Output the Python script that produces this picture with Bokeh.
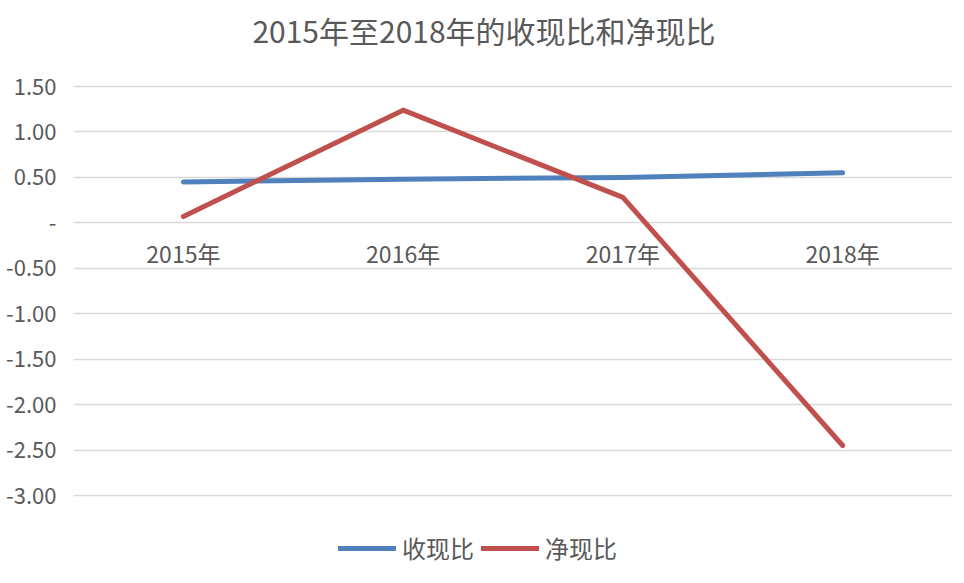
from bokeh.plotting import figure
from bokeh.models import (FactorRange, Range1d, FixedTicker, CustomJSTickFormatter, Legend,
                          LegendItem, ColumnDataSource, Label)
from bokeh.embed import file_html
from bokeh.resources import INLINE
from bokeh.core.properties import value

title_text = "2015年至2018年的收现比和净现比"
years = ["2015年", "2016年", "2017年", "2018年"]
shouxian = [0.45, 0.48, 0.50, 0.55]      # 收现比
jingxian = [0.07, 1.24, 0.28, -2.45]     # 净现比
series_names = ["收现比", "净现比"]
y_ticks = [-3.0, -2.5, -2.0, -1.5, -1.0, -0.5, 0.0, 0.5, 1.0, 1.5]

FONT = "Noto Sans CJK SC"
TXT = "#595959"

# layout (pixels): the gridded band is 409px tall, with room above for the
# title and below for the legend, all inside one frame
W, H = 964, 583
LEFT, RIGHT = 73, 12
TOP_SPACE, GRID_H = 86, 409
BOTTOM_SPACE = H - TOP_SPACE - GRID_H
ppu = GRID_H / (y_ticks[-1] - y_ticks[0])
y_end = y_ticks[-1] + TOP_SPACE / ppu
y_start = y_ticks[0] - BOTTOM_SPACE / ppu

p = figure(frame_width=W - LEFT - RIGHT, frame_height=H, output_backend="svg", toolbar_location=None,
           x_range=FactorRange(*years, range_padding=0),
           y_range=Range1d(y_start, y_end),
           x_axis_location=None,
           min_border_left=LEFT, min_border_right=RIGHT, min_border_top=0, min_border_bottom=0)
p.outline_line_color = None
p.background_fill_color = "white"
p.border_fill_color = "white"

# title
p.add_layout(Label(x=len(years) / 2, y=y_ticks[-1] + (TOP_SPACE - 29) / ppu, text=title_text,
                   x_offset=-29, text_align="center", text_baseline="middle",
                   text_font=FONT, text_font_size="30px", text_color=TXT))

# y axis
p.yaxis.ticker = FixedTicker(ticks=y_ticks)
p.yaxis.formatter = CustomJSTickFormatter(code="return tick == 0 ? '-' : tick.toFixed(2);")
p.yaxis.axis_line_color = None
p.yaxis.major_tick_line_color = None
p.yaxis.minor_tick_line_color = None
p.yaxis.major_label_text_font = FONT
p.yaxis.major_label_text_font_size = "22px"
p.yaxis.major_label_text_color = TXT
p.yaxis.major_label_standoff = 11

p.xgrid.grid_line_color = None
p.ygrid.grid_line_color = "#D9D9D9"
p.ygrid.grid_line_width = 1.5
p.ygrid.ticker = FixedTicker(ticks=y_ticks)

# category labels sit just under the zero line (Excel style)
cat_src = ColumnDataSource(dict(x=years, y=[0] * len(years), t=years))
p.text(x="x", y="y", text="t", source=cat_src, y_offset=30,
       text_align="center", text_baseline="middle",
       text_font=value(FONT), text_font_size="23px", text_color=TXT)

r1 = p.line(years, shouxian, line_color="#4F81BD", line_width=5, line_cap="round", line_join="round")
r2 = p.line(years, jingxian, line_color="#C0504D", line_width=5, line_cap="round", line_join="round")

legend = Legend(items=[LegendItem(label=series_names[0], renderers=[r1]),
                       LegendItem(label=series_names[1], renderers=[r2])],
                orientation="horizontal", location=(265, 18),
                glyph_width=58, glyph_height=30, label_standoff=6, spacing=7,
                padding=0, margin=0, border_line_color=None, background_fill_alpha=0,
                label_text_font=FONT, label_text_font_size="24px", label_text_color=TXT)
p.add_layout(legend, "center")

open("out.html", "w").write(file_html(p, INLINE))
